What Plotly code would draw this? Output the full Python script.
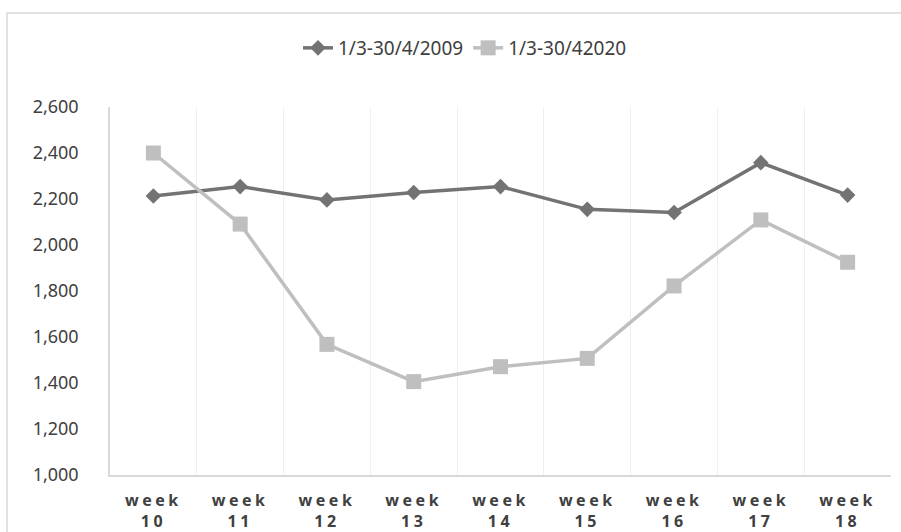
import plotly.graph_objects as go

categories = ["week 10", "week 11", "week 12", "week 13", "week 14",
              "week 15", "week 16", "week 17", "week 18"]
week_words = ["week"] * 9
week_numbers = ["10", "11", "12", "13", "14", "15", "16", "17", "18"]
series_2009_name = "1/3-30/4/2009"
series_2009 = [2213, 2254, 2196, 2228, 2254, 2155, 2141, 2358, 2217]
series_2020_name = "1/3-30/42020"
series_2020 = [2400, 2091, 1568, 1406, 1471, 1507, 1822, 2109, 1925]
y_ticks = [1000, 1200, 1400, 1600, 1800, 2000, 2200, 2400, 2600]
y_ticktext = ["1,000", "1,200", "1,400", "1,600", "1,800", "2,000", "2,200", "2,400", "2,600"]

FONT = "Noto Sans"
TXT = "#404040"

sp = '<span style="letter-spacing:3.5px">{}</span>'
x_ticktext = [sp.format(w) + "<br>" + sp.format(n) for w, n in zip(week_words, week_numbers)]

fig = go.Figure()
fig.add_trace(go.Scatter(
    x=categories, y=series_2009, name=series_2009_name, mode="lines+markers",
    line=dict(color="#737373", width=3.5),
    marker=dict(symbol="diamond", size=12, color="#737373"),
))
fig.add_trace(go.Scatter(
    x=categories, y=series_2020, name=series_2020_name, mode="lines+markers",
    line=dict(color="#BFBFBF", width=3.5),
    marker=dict(symbol="square", size=15, color="#BFBFBF"),
))

fig.update_layout(
    width=901, height=532,
    margin=dict(l=110, r=10, t=107, b=57),
    paper_bgcolor="white", plot_bgcolor="white",
    font=dict(family=FONT, size=18, color=TXT),
    showlegend=True,
    legend=dict(orientation="h", x=(465 - 110) / 781, xanchor="center",
                y=(475 - 48) / 368, yanchor="middle",
                font=dict(family=FONT, size=19, color=TXT),
                bgcolor="rgba(0,0,0,0)"),
    xaxis=dict(
        type="category", tickson="boundaries", showgrid=True, gridcolor="#EFEFEF",
        gridwidth=1, showline=True, linecolor="#D9D9D9", linewidth=1.5,
        ticks="", tickvals=categories, ticktext=x_ticktext, ticklabelstandoff=10,
        tickfont=dict(family=FONT, size=16, color=TXT, weight="bold"),
        range=[-0.5, 8.5], fixedrange=True, automargin=False,
    ),
    yaxis=dict(
        range=[1000, 2600], tickvals=y_ticks, ticktext=y_ticktext,
        showgrid=False, zeroline=False, showline=True, linecolor="#D9D9D9", linewidth=1.5,
        ticks="", ticklabelstandoff=26, automargin=False, fixedrange=True,
        tickfont=dict(family=FONT, size=18, color=TXT),
    ),
    shapes=[dict(
        type="rect", xref="paper", yref="paper",
        x0=(7 - 110) / 781, x1=1.2, y0=-0.3, y1=(475 - 13) / 368,
        line=dict(color="#D9D9D9", width=1.5), fillcolor="rgba(0,0,0,0)", layer="below",
    )],
)

fig.write_html("out.html", config={"displayModeBar": False},
               post_script="document.body.style.margin='0';document.body.style.overflow='hidden';")
